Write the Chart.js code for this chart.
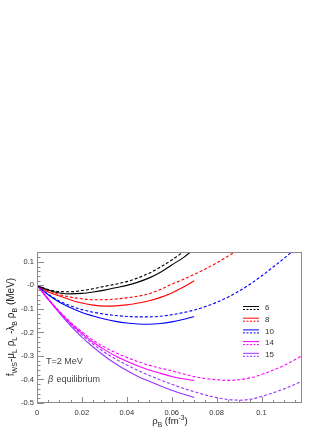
<!DOCTYPE html>
<html>
<head>
<meta charset="utf-8">
<script src="https://cdn.jsdelivr.net/npm/chart.js@4.4.1/dist/chart.umd.min.js"></script>
<style>
html, body { margin: 0; padding: 0; background: #fff; }
canvas { display: block; }
</style>
</head>
<body>
<canvas id="myChart" width="332" height="430"></canvas>
<script>
/* Data: density grid (fm^-3) and curves, step 0.005 */
var rhoGrid = [0, 0.005, 0.01, 0.015, 0.02, 0.025, 0.03, 0.035, 0.04, 0.045, 0.05, 0.055, 0.06,
    0.065, 0.07, 0.075, 0.08, 0.085, 0.09, 0.095, 0.1, 0.105, 0.11, 0.115, 0.12];

var seriesNames = ['6', '8', '10', '14', '15'];
var seriesColors = ['#000000', '#ff0000', '#0000ff', '#ff00ff', '#9933ff'];

/* solid lines */
var solid6 = [0, -0.02, -0.032, -0.036, -0.034, -0.028, -0.02, -0.01, 0.0, 0.014, 0.032, 0.056, 0.087, 0.117, 0.155];
var solid8 = [0, -0.028, -0.045, -0.062, -0.075, -0.084, -0.088, -0.087, -0.083, -0.075, -0.065, -0.051, -0.032, -0.008, 0.02];
var solid10 = [0, -0.04, -0.072, -0.095, -0.115, -0.13, -0.143, -0.153, -0.16, -0.164, -0.165, -0.162, -0.155, -0.145, -0.132];
var solid14 = [0, -0.058, -0.113, -0.162, -0.204, -0.242, -0.273, -0.3, -0.323, -0.343, -0.36, -0.374, -0.387, -0.397, -0.405];
var solid15 = [0, -0.06, -0.118, -0.172, -0.22, -0.262, -0.3, -0.333, -0.362, -0.387, -0.408, -0.428, -0.446, -0.462, -0.476];

/* dashed lines */
var dash6 = [0, -0.018, -0.026, -0.027, -0.022, -0.014, -0.004, 0.005, 0.016, 0.032, 0.052, 0.078, 0.108, 0.142, 0.18];
var dash8 = [0, -0.022, -0.039, -0.05, -0.057, -0.061, -0.061, -0.058, -0.053, -0.046, -0.035, -0.017, 0.005,
    0.025, 0.047, 0.07, 0.096, 0.124, 0.152, 0.18];
var dash10 = [0, -0.038, -0.067, -0.087, -0.103, -0.114, -0.122, -0.128, -0.132, -0.134, -0.134, -0.131, -0.125,
    -0.116, -0.105, -0.09, -0.072, -0.05, -0.024, 0.006, 0.04, 0.077, 0.115, 0.155, 0.2];
var dash14 = [0, -0.057, -0.11, -0.157, -0.197, -0.233, -0.262, -0.286, -0.306, -0.324, -0.34, -0.352, -0.363,
    -0.376, -0.388, -0.396, -0.401, -0.404, -0.401, -0.393, -0.379, -0.361, -0.34, -0.315, -0.288];
var dash15 = [0, -0.059, -0.115, -0.166, -0.21, -0.25, -0.284, -0.313, -0.338, -0.362, -0.383, -0.402, -0.42,
    -0.437, -0.452, -0.466, -0.477, -0.485, -0.488, -0.484, -0.472, -0.457, -0.44, -0.42, -0.4];

var solidSets = [solid6, solid8, solid10, solid14, solid15];
var dashSets = [dash6, dash8, dash10, dash14, dash15];

var xTickVals = [0, 0.02, 0.04, 0.06, 0.08, 0.1];
var xTickLabels = ['0', '0.02', '0.04', '0.06', '0.08', '0.1'];
var yTickVals = [0.1, 0, -0.1, -0.2, -0.3, -0.4, -0.5];
var yTickLabels = ['0.1', '-0', '-0.1', '-0.2', '-0.3', '-0.4', '-0.5'];

var FONT = "'Liberation Sans', Arial, Helvetica, sans-serif";

function toPoints(vals) {
    var pts = [];
    for (let i = 0; i < vals.length; i++) {
        pts.push({x: rhoGrid[i], y: vals[i]});
    }
    return pts;
}

var datasets = [];
for (let i = 0; i < seriesNames.length; i++) {
    datasets.push({
        label: seriesNames[i],
        data: toPoints(solidSets[i]),
        borderColor: seriesColors[i],
        borderWidth: 1.1,
        pointRadius: 0,
        cubicInterpolationMode: 'monotone'
    });
    datasets.push({
        label: seriesNames[i] + ' dashed',
        data: toPoints(dashSets[i]),
        borderColor: seriesColors[i],
        borderWidth: 1.1,
        borderDash: [3, 2],
        pointRadius: 0,
        cubicInterpolationMode: 'monotone'
    });
}

/* text with sub/superscripts: parts = [[text, 0|1|2]] */
function richText(ctx, parts, x, y, size, align) {
    var total = 0;
    var widths = [];
    for (let i = 0; i < parts.length; i++) {
        var s = parts[i][1] ? size * 0.7 : size;
        ctx.font = s + 'px ' + FONT;
        widths.push(ctx.measureText(parts[i][0]).width);
        total += widths[i];
    }
    var cx = align == 'center' ? x - total / 2 : x;
    ctx.textAlign = 'left';
    ctx.textBaseline = 'alphabetic';
    for (let i = 0; i < parts.length; i++) {
        var mode = parts[i][1];
        var s2 = mode ? size * 0.7 : size;
        ctx.font = s2 + 'px ' + FONT;
        var dy = mode == 1 ? size * 0.3 : (mode == 2 ? -size * 0.42 : 0);
        ctx.fillText(parts[i][0], cx, y + dy);
        cx += widths[i];
    }
}

const decor = {
    id: 'decor',
    afterDraw(chart) {
        const ctx = chart.ctx;
        const a = chart.chartArea;
        const xs = chart.scales.x;
        const ys = chart.scales.y;
        ctx.save();
        /* frame */
        ctx.strokeStyle = '#8a8a8a';
        ctx.lineWidth = 1;
        ctx.strokeRect(Math.round(a.left) + 0.5, Math.round(a.top) + 0.5,
            Math.round(a.right - a.left) - 1, Math.round(a.bottom - a.top) - 1);
        /* inner ticks */
        ctx.beginPath();
        for (let k = 0; k <= 23; k++) {
            var px = Math.round(xs.getPixelForValue(k * 0.005)) + 0.5;
            var len = (k % 4 == 0) ? 6 : 3;
            ctx.moveTo(px, a.bottom);
            ctx.lineTo(px, a.bottom - len);
        }
        for (let k = 0; k <= 32; k++) {
            var py = Math.round(ys.getPixelForValue(-0.5 + k * 0.02)) + 0.5;
            var len2 = (k % 5 == 0) ? 7 : 3.5;
            ctx.moveTo(a.left, py);
            ctx.lineTo(a.left + len2, py);
        }
        ctx.stroke();

        /* legend */
        for (let i = 0; i < seriesNames.length; i++) {
            var ly = 308 + i * 11.7;
            ctx.strokeStyle = seriesColors[i];
            ctx.lineWidth = 1;
            ctx.setLineDash([]);
            ctx.beginPath();
            ctx.moveTo(243, ly - 1.5);
            ctx.lineTo(259, ly - 1.5);
            ctx.stroke();
            ctx.setLineDash([2, 1.5]);
            ctx.beginPath();
            ctx.moveTo(243, ly + 1.5);
            ctx.lineTo(259, ly + 1.5);
            ctx.stroke();
            ctx.setLineDash([]);
            ctx.fillStyle = '#333';
            ctx.font = '8px ' + FONT;
            ctx.textAlign = 'left';
            ctx.textBaseline = 'middle';
            ctx.fillText(seriesNames[i], 265, ly);
        }

        /* annotations */
        ctx.fillStyle = '#444';
        ctx.font = '9px ' + FONT;
        ctx.textAlign = 'left';
        ctx.textBaseline = 'alphabetic';
        ctx.fillText('T=2 MeV', 46, 364);
        ctx.font = 'italic 9px ' + FONT;
        ctx.fillText('\u03b2', 48, 382);
        ctx.font = '9px ' + FONT;
        ctx.fillText(' equilibrium', 54, 382);

        /* axis titles */
        ctx.fillStyle = '#222';
        richText(ctx, [['\u03c1', 0], ['B', 1], [' (fm', 0], ['-3', 2], [')', 0]], 170, 424, 9.5, 'center');
        ctx.translate(14, 327);
        ctx.rotate(-Math.PI / 2);
        richText(ctx, [['f', 0], ['WS', 1], ['-\u03bc', 0], ['L', 1], [' \u03c1', 0], ['L', 1],
            [' -\u03bb', 0], ['B', 1], [' \u03c1', 0], ['B', 1], [' (MeV)', 0]], 0, 0, 10, 'center');
        ctx.restore();
    }
};

var myChart = new Chart(document.getElementById('myChart'), {
    type: 'line',
    data: {datasets: datasets},
    options: {
        responsive: false,
        animation: false,
        devicePixelRatio: 1,
        layout: {padding: {top: 252, right: 30, left: 0, bottom: 0}},
        plugins: {legend: {display: false}, tooltip: {enabled: false}},
        scales: {
            x: {
                type: 'linear',
                min: 0,
                max: 0.118,
                grid: {display: false, drawTicks: false},
                border: {display: false},
                afterBuildTicks: function(scale) {
                    scale.ticks = xTickVals.map(function(v) { return {value: v}; });
                },
                afterFit: function(scale) { scale.height = 27; },
                ticks: {
                    padding: 5,
                    color: '#333',
                    font: {size: 7.5, family: FONT},
                    maxRotation: 0,
                    autoSkip: false,
                    callback: function(v) { return xTickLabels[xTickVals.indexOf(v)]; }
                }
            },
            y: {
                type: 'linear',
                min: -0.5,
                max: 0.142,
                grid: {display: false, drawTicks: false},
                border: {display: false},
                afterBuildTicks: function(scale) {
                    scale.ticks = yTickVals.map(function(v) { return {value: v}; });
                },
                afterFit: function(scale) { scale.width = 37; },
                ticks: {
                    padding: 3,
                    color: '#333',
                    font: {size: 7.5, family: FONT},
                    callback: function(v) { return yTickLabels[yTickVals.indexOf(v)]; }
                }
            }
        }
    },
    plugins: [decor]
});
</script>
</body>
</html>
